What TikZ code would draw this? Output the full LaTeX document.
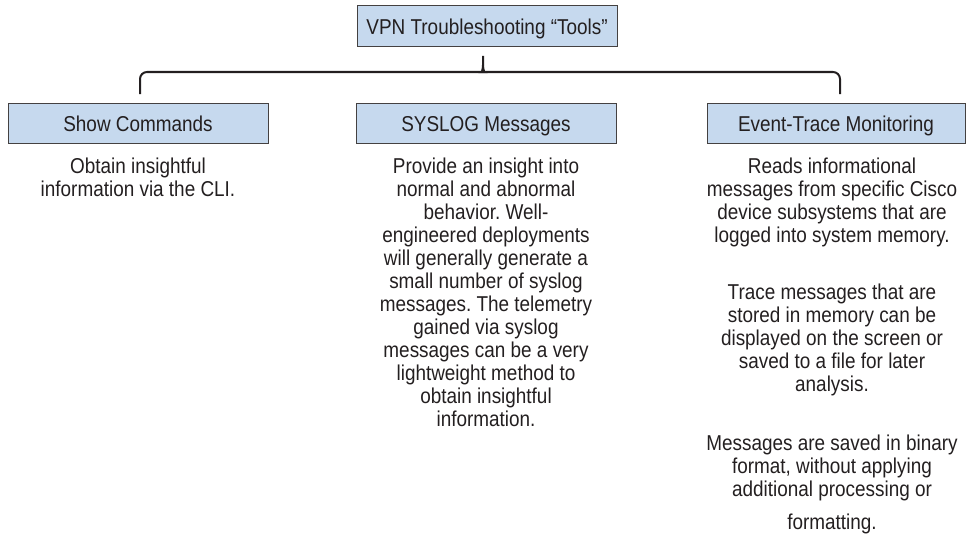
\documentclass[tikz,border=0pt]{standalone}
\usepackage{fontspec}
\setmainfont{Liberation Sans}[FakeStretch=0.88]
\usepackage{xcolor}
\usetikzlibrary{positioning}
\definecolor{boxblue}{RGB}{198,217,238}
\definecolor{ink}{RGB}{35,31,32}
\frenchspacing
\tikzset{
  tool/.style={rectangle, draw=ink!85, line width=1pt, fill=boxblue, text=ink,
               minimum width=260pt, minimum height=40pt, inner sep=0pt,
               text height=16.5pt, text depth=0pt,
               font=\fontsize{21.5}{23}\selectfont},
  note/.style={align=center, inner sep=0pt, text=ink,
               font=\fontsize{21.5}{23}\selectfont},
  brace/.style={draw=ink, line width=2pt}
}

\begin{document}
\begin{tikzpicture}[x=1pt,y=-1pt]
\useasboundingbox (0,0) rectangle (966,535);
\node[tool, minimum height=41pt] (vpn) at (487,26.5) {VPN Troubleshooting “Tools”};
\node[tool] (show) at (138,123) {Show Commands};
\node[tool] (syslog) at (486,123) {SYSLOG Messages};
\node[tool, minimum width=258pt] (event) at (836,123) {Event-Trace Monitoring};
% brace
\coordinate (tip) at (483,56);
\coordinate (bl) at (140,94);
\coordinate (br) at (840,94);
\draw[brace] (bl) [rounded corners=7pt] |- (476,72) [sharp corners]
  .. controls (481,72) and (483,70) .. (483,65) -- (tip);
\draw[brace] (br) [rounded corners=7pt] |- (490,72) [sharp corners]
  .. controls (485,72) and (483,70) .. (483,65);
% descriptions
\node[note, below=14pt of show] (showtxt) {Obtain insightful\\information via the CLI.};
\node[note, below=14pt of syslog] (syslogtxt) {Provide an insight into\\normal and abnormal\\
  behavior. Well-\\engineered deployments\\will generally generate a\\small number of syslog\\
  messages. The telemetry\\gained via syslog\\messages can be a very\\lightweight method to\\
  obtain insightful\\information.};
\node[note, below=14pt of event, xshift=-4pt] (eventtxt) {Reads informational\\
  messages from specific Cisco\\device subsystems that are\\logged into system memory.\\[34pt]
  Trace messages that are\\stored in memory can be\\displayed on the screen or\\
  saved to a file for later\\analysis.\\[36pt]
  Messages are saved in binary\\format, without applying\\additional processing or\\[10pt]
  formatting.};
\end{tikzpicture}
\end{document}
